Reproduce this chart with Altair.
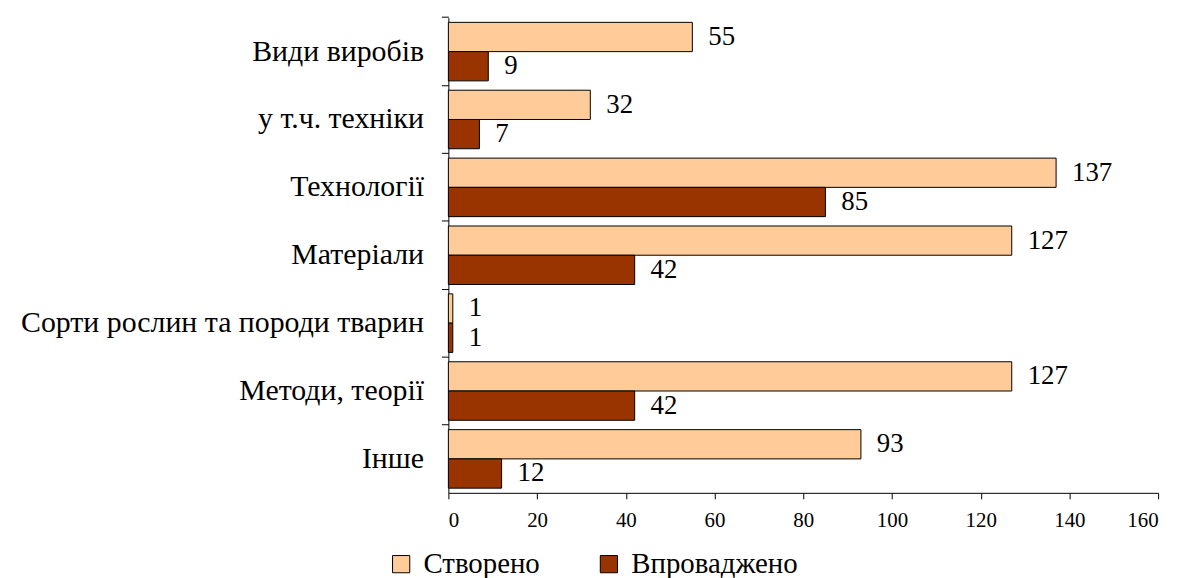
import altair as alt
import pandas as pd

categories = ["Види виробів", "у т.ч. техніки", "Технології", "Матеріали",
              "Сорти рослин та породи тварин", "Методи, теорії", "Інше"]
series = ["Створено", "Впроваджено"]
created = [55, 32, 137, 127, 1, 127, 93]
implemented = [9, 7, 85, 42, 1, 42, 12]
colors = ["#FFCC99", "#993300"]
x_ticks = [0, 20, 40, 60, 80, 100, 120, 140, 160]

rows = []
for c, a, b in zip(categories, created, implemented):
    rows.append({"category": c, "series": series[0], "value": a})
    rows.append({"category": c, "series": series[1], "value": b})
df = pd.DataFrame(rows)

FONT = "Liberation Serif"

y_scale = alt.Scale(domain=categories, paddingInner=0, paddingOuter=0)
yoff = alt.YOffset("series:N", sort=series,
                   scale=alt.Scale(domain=series, paddingOuter=0.16, paddingInner=0))
x_enc = alt.X("value:Q", scale=alt.Scale(domain=[0, 160]),
              axis=alt.Axis(values=x_ticks, title=None, grid=False, domainColor="black",
                            tickColor="black", tickSize=6, labelFont=FONT,
                            labelFontSize=21, labelColor="black", labelPadding=11))

bars = alt.Chart(df).mark_bar(stroke="black", strokeWidth=1).encode(
    y=alt.Y("category:N", sort=categories, scale=y_scale,
            axis=alt.Axis(title=None, ticks=False, domain=False, labelFont=FONT,
                          labelFontSize=30, labelColor="black", labelPadding=25,
                          labelLimit=600)),
    yOffset=yoff,
    x=x_enc,
    color=alt.Color("series:N", sort=series,
                    scale=alt.Scale(domain=series, range=colors),
                    legend=alt.Legend(title=None, orient="none", direction="horizontal",
                                      legendX=-62, legendY=535,
                                      labelFont=FONT, labelFontSize=29,
                                      labelColor="black", labelLimit=400,
                                      symbolType="square",
                                      symbolSize=300, symbolStrokeColor="black",
                                      symbolStrokeWidth=1, columnPadding=54,
                                      labelOffset=8)),
)

labels = alt.Chart(df).mark_text(align="left", baseline="middle", dx=16,
                                 font=FONT, fontSize=27, color="black").encode(
    y=alt.Y("category:N", sort=categories, scale=y_scale,
            axis=alt.Axis(title=None, labels=False, ticks=True, bandPosition=0,
                          orient="left", domain=True, domainColor="black",
                          tickColor="black", tickSize=7)),
    yOffset=yoff,
    x=alt.X("value:Q"),
    text=alt.Text("value:Q"),
)

chart = alt.layer(bars, labels).resolve_axis(y="independent").properties(
    width=714, height=478, background="white",
    padding={"left": 12, "top": 6, "right": 20, "bottom": 5},
).configure_view(stroke=None)

chart.save("out.html", embed_options={"renderer": "svg", "actions": False})
